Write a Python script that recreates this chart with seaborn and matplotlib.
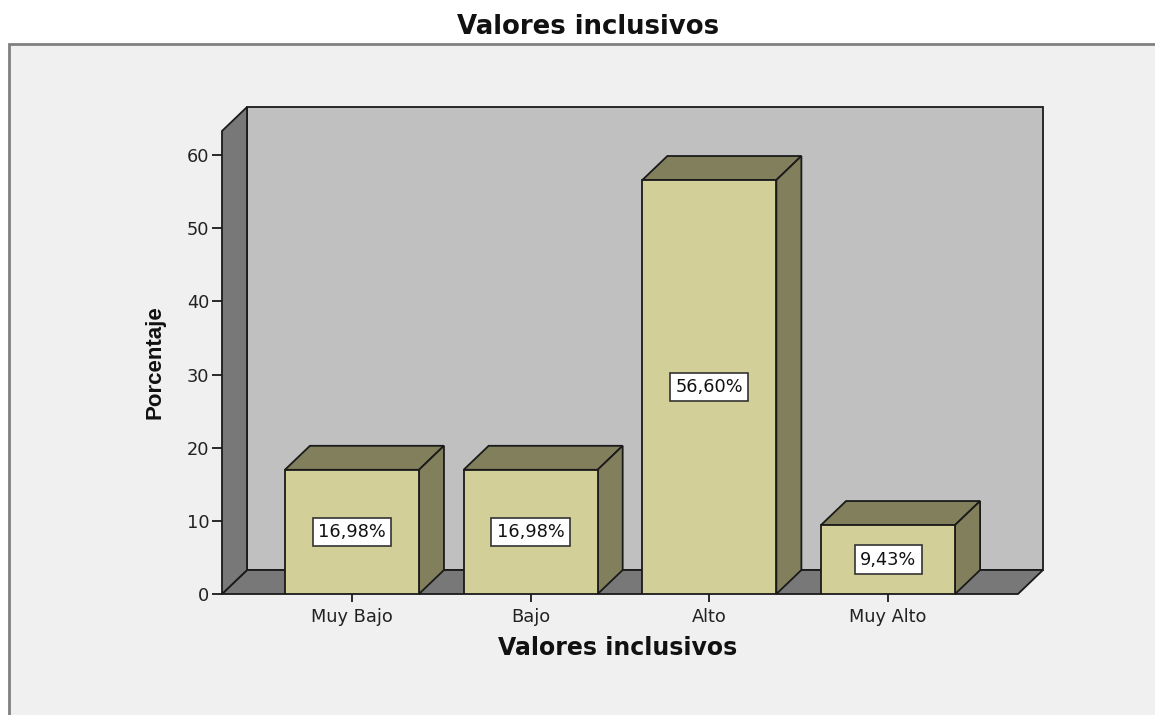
import matplotlib
matplotlib.use("Agg")
import matplotlib.pyplot as plt
import seaborn as sns
import pandas as pd
from matplotlib.patches import Polygon, Rectangle

categories = ["Muy Bajo", "Bajo", "Alto", "Muy Alto"]
values = [16.98, 16.98, 56.60, 9.43]
labels = ["16,98%", "16,98%", "56,60%", "9,43%"]
yticks = [0, 10, 20, 30, 40, 50, 60]

sns.set_theme(style="white")
plt.rcParams["font.family"] = ["DejaVu Sans"]

FRONT = "#d3cf98"
SIDE = "#827f5c"
BACKWALL = "#c0c0c0"
FLOOR = "#787878"
PANEL = "#f0f0f0"
EDGE = "#1a1a1a"

fig = plt.figure(figsize=(11.55, 7.15), dpi=100)
fig.patch.set_facecolor("white")
W, H = 1155, 715
# outer panel
panel = Rectangle((9 / W, -0.05), 1.2, (H - 44) / H + 0.05, transform=fig.transFigure,
                  facecolor=PANEL, edgecolor="#808080", linewidth=2, zorder=-5)
fig.patches.append(panel)

ax = fig.add_axes([222 / W, (H - 594) / H, (1043 - 222) / W, (594 - 107) / H])
ax.set_zorder(2)
ax.set_facecolor("none")

df = pd.DataFrame({"cat": categories, "val": values})
sns.barplot(data=df, x="cat", y="val", width=0.75, color=FRONT, saturation=1,
            edgecolor=EDGE, linewidth=1.3, ax=ax, zorder=5)

x0, x1 = -0.727, 3.727
dx, dy = 0.14, 3.28
ytop = 63.3
ax.set_xlim(x0, x1 + dx)
ax.set_ylim(0, ytop + dy)

lw = 1.3
# back wall
ax.add_patch(Polygon([(x0 + dx, dy), (x1 + dx, dy), (x1 + dx, ytop + dy), (x0 + dx, ytop + dy)],
                     closed=True, facecolor=BACKWALL, edgecolor=EDGE, linewidth=lw, zorder=1,
                     clip_on=False))
# floor
ax.add_patch(Polygon([(x0, 0), (x1, 0), (x1 + dx, dy), (x0 + dx, dy)],
                     closed=True, facecolor=FLOOR, edgecolor=EDGE, linewidth=lw, zorder=2,
                     clip_on=False))
# left wall
ax.add_patch(Polygon([(x0, 0), (x0 + dx, dy), (x0 + dx, ytop + dy), (x0, ytop)],
                     closed=True, facecolor=FLOOR, edgecolor=EDGE, linewidth=lw, zorder=2,
                     clip_on=False))

for p, lab in zip(ax.patches[:len(values)], labels):
    xl = p.get_x()
    xr = xl + p.get_width()
    h = p.get_height()
    ax.add_patch(Polygon([(xl, h), (xr, h), (xr + dx, h + dy), (xl + dx, h + dy)],
                         closed=True, facecolor=SIDE, edgecolor=EDGE, linewidth=lw, zorder=4,
                         clip_on=False))
    ax.add_patch(Polygon([(xr, 0), (xr + dx, dy), (xr + dx, h + dy), (xr, h)],
                         closed=True, facecolor=SIDE, edgecolor=EDGE, linewidth=lw, zorder=4,
                         clip_on=False))
    ax.text(xl + p.get_width() / 2, h / 2, lab, ha="center", va="center", fontsize=12.8,
            color="#111111", zorder=7,
            bbox=dict(boxstyle="square,pad=0.3", facecolor="white", edgecolor="#333333", linewidth=1.2))

for s in ax.spines.values():
    s.set_visible(False)

ax.set_yticks(yticks)
ax.set_yticklabels([str(t) for t in yticks], fontsize=12.8, color="#222222")
ax.tick_params(axis="y", which="both", left=True, length=7, width=1.3, color=EDGE, pad=2)
ax.tick_params(axis="x", which="both", bottom=True, length=6, width=1.3, color=EDGE, pad=4,
               labelsize=12.8, labelcolor="#222222")
ax.set_xlabel("")
ax.set_ylabel("")

fig.text(588 / W, 1 - 27 / H, "Valores inclusivos", ha="center", va="center",
         fontsize=18.7, fontweight="bold", family=["DejaVu Sans"], color="#111111")
fig.text(618 / W, 1 - 648 / H, "Valores inclusivos", ha="center", va="center",
         fontsize=17, fontweight="bold", family=["DejaVu Sans"], color="#111111")
fig.text(155 / W, 1 - 362 / H, "Porcentaje", ha="center", va="center", rotation=90,
         fontsize=16, fontweight="bold", family=["Liberation Sans"], color="#111111")

fig.savefig("out.png", dpi=100)
